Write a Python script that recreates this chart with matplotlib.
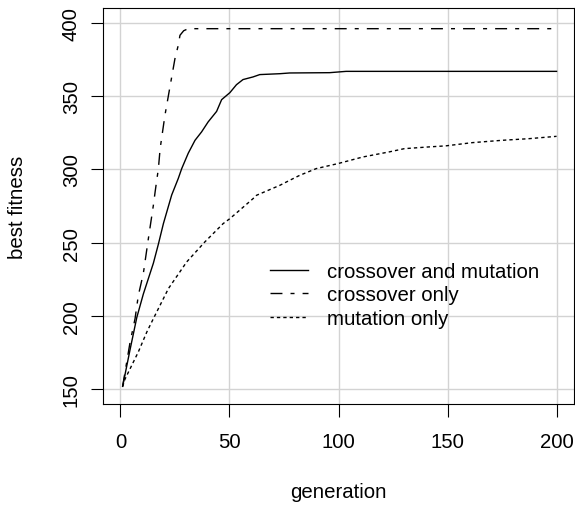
import matplotlib.pyplot as plt

plt.rcParams['font.family'] = ['Liberation Sans', 'DejaVu Sans']

# values
gen_both = [1, 4.4, 7.5, 10.5, 12.8, 15.1, 17.4, 19.7, 23.5, 26.5, 28.1, 31.1, 34.2,
            37.2, 40.2, 44.1, 46.4, 50.2, 53.2, 56.2, 60.8, 63.9, 73.1, 77.6, 95.9,
            103.5, 200]
fit_both = [152, 177, 199, 215, 225.5, 236, 249, 263, 282.5, 293.7, 300.5,
            311, 319.8, 325.5, 332.3, 339.5, 347.5, 352.3, 357.7, 361.2, 363, 364.6,
            365.2, 365.7, 365.9, 366.8, 366.8]

gen_cross = [1, 4.4, 6.7, 8.2, 10.5, 12.8, 15.1, 15.9, 17.4, 18.2, 20.4, 22.7, 25,
             26.5, 27.3, 29, 31.1, 200]
fit_cross = [152, 182, 198.2, 214, 229, 252.7, 275.5, 284.6, 300.5, 314.1, 336.8,
             356.2, 375.5, 384.5, 391.4, 394.5, 395.9, 395.9]

gen_mut = [1, 2.1, 8.2, 12.1, 15.1, 22, 30.4, 38.7, 47.1, 50.2, 60.8, 62.4, 73.1,
           77.6, 82.2, 89.8, 99.7, 111.1, 123.3, 130.2, 141.6, 149.2, 161.4, 175.1,
           187.3, 200]
fit_mut = [152, 157, 175.5, 189.1, 198.2, 218.7, 236.9, 250.5, 263, 266.4, 280, 282.3,
           289.1, 292.5, 295.9, 300.5, 303.9, 308.4, 311.9, 314.1, 315.3, 316, 318.2,
           319.8, 320.9, 322.5]

labels = ['crossover and mutation', 'crossover only', 'mutation only']

W, H = 575, 506
fig = plt.figure(figsize=(W / 100, H / 100), dpi=100)
ax = fig.add_axes([103 / W, 1 - 405 / H, (574 - 103) / W, (405 - 9) / H])

fs = 14.7
ax.set_xlim(-8, 208)
ax.set_ylim(140, 410)
ax.set_xticks([0, 50, 100, 150, 200])
ax.set_yticks([150, 200, 250, 300, 350, 400])
ax.grid(True, color='#d3d3d3', lw=1.0)
ax.set_axisbelow(True)

ax.plot(gen_both, fit_both, color='black', lw=1.0, label=labels[0])
ax.plot(gen_cross, fit_cross, color='black', lw=1.0,
        ls=(0, (8.6, 5.8, 2.9, 5.8)), label=labels[1])
ax.plot(gen_mut, fit_mut, color='black', lw=1.0, ls=(0, (2.4, 2.2)), label=labels[2])

for s in ax.spines.values():
    s.set_linewidth(0.8)
ax.tick_params(axis='both', direction='out', length=9, width=0.8, labelsize=fs)
ax.tick_params(axis='x', pad=11)
ax.tick_params(axis='y', pad=7, labelrotation=90)
for t in ax.get_yticklabels():
    t.set_va('center')

ax.legend(loc='upper left', bbox_to_anchor=(0.3546, 0.359), frameon=False,
          fontsize=fs, handlelength=1.86, handletextpad=0.93, labelspacing=0.22,
          borderpad=0, borderaxespad=0)

fig.text(338.5 / W, 1 - 493 / H, 'generation', ha='center', va='center', fontsize=fs)
fig.text(18 / W, 1 - 207 / H, 'best fitness', ha='center', va='center',
         rotation=90, fontsize=fs)

fig.savefig('out.png', dpi=100)
